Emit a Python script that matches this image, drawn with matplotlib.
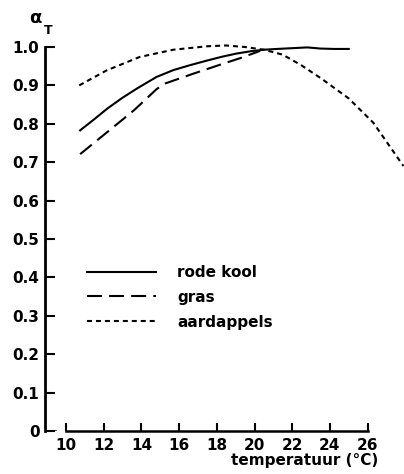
import matplotlib
matplotlib.use("Agg")
import matplotlib.pyplot as plt

# data
temp_kool = [10.75, 11.5, 12.2, 13.0, 13.8, 14.8, 15.7, 16.6, 17.5, 18.3, 19.05, 19.8, 20.5, 21.2, 22.0, 22.8, 23.5, 24.2, 25.0]
alpha_kool = [0.783, 0.812, 0.840, 0.868, 0.893, 0.922, 0.940, 0.953, 0.965, 0.975, 0.983, 0.989, 0.993, 0.995, 0.997, 0.999, 0.996, 0.995, 0.995]

temp_gras = [10.75, 12.2, 13.6, 14.8, 15.2, 16.6, 18.3, 19.3, 20.3]
alpha_gras = [0.721, 0.779, 0.835, 0.890, 0.904, 0.928, 0.956, 0.972, 0.990]

temp_aard = [10.7, 12.15, 13.9, 15.7, 17.5, 18.5, 19.5, 20.5, 21.5, 22.5, 23.6, 25.0, 26.3, 27.9]
alpha_aard = [0.900, 0.939, 0.974, 0.993, 1.002, 1.004, 1.000, 0.993, 0.980, 0.952, 0.916, 0.866, 0.803, 0.690]

xticks = [10, 12, 14, 16, 18, 20, 22, 24, 26]
yticks = [0, 0.1, 0.2, 0.3, 0.4, 0.5, 0.6, 0.7, 0.8, 0.9, 1.0]
ytick_labels = ["0", "0.1", "0.2", "0.3", "0.4", "0.5", "0.6", "0.7", "0.8", "0.9", "1.0"]
labels = ["rode kool", "gras", "aardappels"]

W, H = 404, 474
fig = plt.figure(figsize=(W / 100, H / 100), dpi=100)
ax = fig.add_axes([45 / W, 1 - 431 / H, 359 / W, 395.5 / H])

lw = 1.5
ax.plot(temp_kool, alpha_kool, color="black", lw=lw, ls="-", label=labels[0])
ax.plot(temp_gras, alpha_gras, color="black", lw=lw, ls=(0, (7.2, 3.4)), label=labels[1])
ax.plot(temp_aard, alpha_aard, color="black", lw=lw, ls=(0, (2.4, 1.9)), label=labels[2])

ax.set_xlim(8.886, 27.93)
ax.set_ylim(0, 1.03)

for s in ["top", "right"]:
    ax.spines[s].set_visible(False)
ax.spines["left"].set_bounds(0, 1.0)
ax.spines["bottom"].set_bounds(10, 26)
ax.spines["left"].set_linewidth(2)
ax.spines["bottom"].set_linewidth(1.8)
ax.axhline(0, xmin=0, xmax=0.028, color="black", lw=1.8)

ax.set_xticks(xticks)
ax.set_xticklabels([str(t) for t in xticks])
ax.set_yticks(yticks)
ax.set_yticklabels(ytick_labels)
ax.tick_params(axis="both", direction="in", width=1.5, labelsize=11)
ax.tick_params(axis="y", length=7, pad=4)
ax.tick_params(axis="x", length=6, pad=5)
for lab in ax.get_xticklabels() + ax.get_yticklabels():
    lab.set_fontweight("bold")

leg = ax.legend(loc="upper left", bbox_to_anchor=(0.117, 0.42), frameon=False,
                handlelength=4.5, handletextpad=1.4, labelspacing=0.65,
                borderpad=0, borderaxespad=0, prop={"size": 11, "weight": "bold"})

fig.text(35 / W, 1 - 18 / H, "α", fontsize=13, fontweight="bold", ha="center", va="center")
fig.text(48 / W, 1 - 31 / H, "T", fontsize=9, fontweight="bold", ha="center", va="center")
fig.text(378 / W, 1 - 460 / H, "temperatuur (°C)", fontsize=11, fontweight="bold", ha="right", va="center")

fig.savefig("out.png", dpi=100)
